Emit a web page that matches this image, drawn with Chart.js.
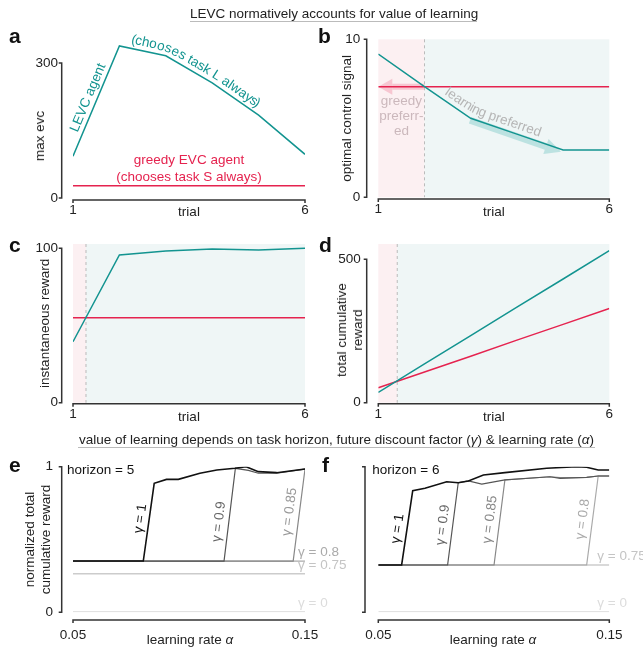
<!DOCTYPE html>
<html>
<head>
<meta charset="utf-8">
<script src="https://cdn.jsdelivr.net/npm/chart.js@4.4.0/dist/chart.umd.min.js"></script>
<style>
  body { margin: 0; background: #fff; }
  #fig { position: relative; width: 643px; height: 647px; overflow: hidden; font-family: "Liberation Sans", Arial, sans-serif; color: #222; }
  #fig canvas { position: absolute; left: 0; top: 0; }
  .hd { position: absolute; font-size: 13.5px; line-height: 15px; text-align: center; border-bottom: 1.2px solid #bbb; white-space: nowrap; }
  .lt { position: absolute; font-size: 21px; line-height: 21px; font-weight: bold; color: #111; }
  .lab { position: absolute; font-size: 13.5px; line-height: 16px; white-space: nowrap; text-align: center; transform: translate(-50%, -50%); }
  .rot { transform: translate(-50%, -50%) rotate(-90deg); }
</style>
</head>
<body>
<div id="fig">
  <canvas id="pa" width="643" height="647"></canvas>
  <canvas id="pb" width="643" height="647"></canvas>
  <canvas id="pc" width="643" height="647"></canvas>
  <canvas id="pd" width="643" height="647"></canvas>
  <canvas id="pe" width="643" height="647"></canvas>
  <canvas id="pf" width="643" height="647"></canvas>

  <div class="hd" style="left:190px;top:5.5px;width:287px">LEVC normatively accounts for value of learning</div>
  <div class="hd" style="left:78px;top:432px;width:517px">value of learning depends on task horizon, future discount factor (<i>γ</i>) &amp; learning rate (<i>α</i>)</div>

  <div class="lt" style="left:9px;top:25px">a</div>
  <div class="lt" style="left:318px;top:25px">b</div>
  <div class="lt" style="left:9px;top:234px">c</div>
  <div class="lt" style="left:319px;top:234px">d</div>
  <div class="lt" style="left:9px;top:454px">e</div>
  <div class="lt" style="left:322px;top:454px">f</div>

  <div class="lab rot" style="left:40px;top:136px">max evc</div>
  <div class="lab rot" style="left:350px;top:330px">total cumulative<br>reward</div>
  <div class="lab" style="left:190px;top:640px">learning rate <i>α</i></div>
  <div class="lab" style="left:493px;top:640px">learning rate <i>α</i></div>
</div>

<script>
// ---- data ----
const trials = [1, 2, 3, 4, 5, 6];
const maxEvcLevc = [93, 338, 316, 256, 184, 97];
const maxEvcGreedy = [27, 27, 27, 27, 27, 27];
const controlLevc = [9.07, 7.0, 5.0, 4.0, 3.0, 3.0];
const controlGreedy = [7, 7, 7, 7, 7, 7];
const rewardLevc = [39.5, 95.7, 98.3, 99.5, 98.9, 100];
const rewardGreedy = [55, 55, 55, 55, 55, 55];
const cumLevc = [36, 135, 234, 333, 431, 530];
const cumGreedy = [52, 107, 162, 218, 273, 328];
// trial where learning starts to pay off
const switchB = 2, switchC = 1.28, switchD = 1.41;

// horizon = 5
const h5g1A = [0.05, 0.0803, 0.085, 0.0903, 0.0954, 0.1047, 0.112, 0.1198, 0.1246, 0.1299, 0.1378, 0.15];
const h5g1 = [0.352, 0.352, 0.886, 0.913, 0.913, 0.955, 0.977, 0.989, 1.0, 0.966, 0.959, 0.984];
const h5g09A = [0.05, 0.1151, 0.12, 0.1256, 0.1299, 0.1378, 0.15];
const h5g09 = [0.352, 0.352, 0.989, 0.975, 0.955, 0.955, 0.984];
const h5g085A = [0.05, 0.1449, 0.15];
const h5g085 = [0.352, 0.352, 0.984];
const h5g08 = [0.352, 0.352];
const h5g075 = [0.265, 0.265];
const h5g0 = [0.003, 0.003];
// horizon = 6
const h6g1A = [0.05, 0.0601, 0.0649, 0.0702, 0.0796, 0.0846, 0.089, 0.0955, 0.1048, 0.1229, 0.1359, 0.1402, 0.1452, 0.15];
const h6g1 = [0.325, 0.325, 0.835, 0.852, 0.897, 0.89, 0.902, 0.943, 0.959, 0.989, 1.0, 0.996, 0.977, 0.977];
const h6g09A = [0.05, 0.08, 0.0846, 0.089, 0.0948, 0.1048, 0.1243, 0.1287, 0.1402, 0.1452, 0.15];
const h6g09 = [0.325, 0.325, 0.89, 0.902, 0.881, 0.909, 0.931, 0.92, 0.927, 0.936, 0.936];
const h6g085A = [0.05, 0.1001, 0.1048, 0.1243, 0.1287, 0.1402, 0.1452, 0.15];
const h6g085 = [0.325, 0.325, 0.909, 0.931, 0.925, 0.927, 0.936, 0.936];
const h6g08A = [0.05, 0.1402, 0.1452, 0.15];
const h6g08 = [0.325, 0.325, 0.936, 0.936];
const h6g075 = [0.325, 0.325];
const h6g0 = [0.003, 0.003];
const edgeAlpha = [0.05, 0.15];

// ticks
const trialTicks = [1, 6];
const evcTicks = [0, 300];
const controlTicks = [0, 10];
const rewardTicks = [0, 100];
const cumTicks = [0, 500];
const alphaTicks = [0.05, 0.15];
const normTicks = [0, 1];

// ---- styling ----
const TEAL = '#139490', RED = '#e5234f';
const PINK_BG = '#fcf0f2', TEAL_BG = '#eff6f6';
const FS = 13.5, HALF_LH = FS * 1.2 / 2;
const FONT = FS + 'px "Liberation Sans", Arial, sans-serif';
const W = 643, H = 647, YW = 60;

Chart.defaults.font.family = '"Liberation Sans", Arial, sans-serif';
Chart.defaults.font.size = FS;
Chart.defaults.color = '#222';

const pts = (xs, ys) => ys.map((v, i) => ({ x: xs[i], y: v }));
const line = (data, color, width) => ({ data, borderColor: color, borderWidth: width || 1.5, pointRadius: 0, fill: false, tension: 0 });

// place characters along a polyline, position and rotation smoothed around corners
function textOnPath(ctx, path, text, t, off, color) {
  ctx.font = FONT; ctx.fillStyle = color;
  ctx.textAlign = 'center'; ctx.textBaseline = 'alphabetic';
  const segs = []; let total = 0;
  for (let i = 0; i < path.length - 1; i++) {
    const dx = path[i + 1][0] - path[i][0], dy = path[i + 1][1] - path[i][1], len = Math.hypot(dx, dy);
    segs.push({ x0: path[i][0], y0: path[i][1], dx, dy, len, start: total });
    total += len;
  }
  const at = m => {
    m = Math.max(0, Math.min(total, m));
    const s = segs.find(g => m <= g.start + g.len) || segs[segs.length - 1];
    const u = (m - s.start) / s.len;
    return [s.x0 + s.dx * u, s.y0 + s.dy * u];
  };
  const K = 14;
  let d = t * total - ctx.measureText(text).width / 2;
  for (const ch of text) {
    const cw = ctx.measureText(ch).width, m = d + cw / 2;
    const pa = at(m - K), pb = at(m + K), p0 = at(m);
    const p = [(pa[0] + pb[0] + 2 * p0[0]) / 4, (pa[1] + pb[1] + 2 * p0[1]) / 4];
    const ang = Math.atan2(pb[1] - pa[1], pb[0] - pa[0]);
    ctx.save();
    ctx.translate(p[0] + Math.sin(ang) * off, p[1] - Math.cos(ang) * off);
    ctx.rotate(ang);
    ctx.fillText(ch, 0, 0);
    ctx.restore();
    d += cw;
  }
}

function arrow(ctx, x, y, ar) {
  let x0 = x.getPixelForValue(ar.from[0]), y0 = y.getPixelForValue(ar.from[1]);
  let x1 = x.getPixelForValue(ar.to[0]), y1 = y.getPixelForValue(ar.to[1]);
  const ang = Math.atan2(y1 - y0, x1 - x0), nx = Math.sin(ang), ny = -Math.cos(ang);
  x0 += nx * ar.off; y0 += ny * ar.off; x1 += nx * ar.off; y1 += ny * ar.off;
  const bx = x1 - Math.cos(ang) * ar.head, by = y1 - Math.sin(ang) * ar.head;
  ctx.fillStyle = ar.color; ctx.strokeStyle = ar.color; ctx.lineWidth = ar.w;
  ctx.beginPath(); ctx.moveTo(x0, y0); ctx.lineTo(bx, by); ctx.stroke();
  ctx.beginPath(); ctx.moveTo(x1, y1);
  ctx.lineTo(bx + nx * ar.half, by + ny * ar.half);
  ctx.lineTo(bx - nx * ar.half, by - ny * ar.half);
  ctx.closePath(); ctx.fill();
}

const decorById = {};
const decor = {
  id: 'decor',
  beforeDatasetsDraw(chart) {
    const d = decorById[chart.canvas.id]; if (!d) return;
    const { ctx, chartArea: a, scales: { x, y } } = chart;
    ctx.save();
    if (d.band != null) {
      const xb = x.getPixelForValue(d.band);
      ctx.fillStyle = PINK_BG; ctx.fillRect(a.left, a.top, xb - a.left, a.bottom - a.top);
      ctx.fillStyle = TEAL_BG; ctx.fillRect(xb, a.top, a.right - xb, a.bottom - a.top);
      ctx.strokeStyle = '#bbb'; ctx.lineWidth = 1; ctx.setLineDash([3, 3]);
      ctx.beginPath(); ctx.moveTo(xb, a.top); ctx.lineTo(xb, a.bottom); ctx.stroke();
      ctx.setLineDash([]);
    }
    (d.arrows || []).forEach(ar => arrow(ctx, x, y, ar));
    ctx.restore();
  },
  afterDatasetsDraw(chart) {
    const d = decorById[chart.canvas.id]; if (!d) return;
    const { ctx, chartArea: a, scales: { x, y } } = chart;
    ctx.save();
    // detached spines
    ctx.strokeStyle = '#333'; ctx.lineWidth = 1.5;
    const sx = a.left - d.gapY;
    const yA = y.getPixelForValue(d.spine[0]), yB = y.getPixelForValue(d.spine[1]);
    ctx.beginPath(); ctx.moveTo(sx - 3, yB); ctx.lineTo(sx, yB); ctx.lineTo(sx, yA); ctx.lineTo(sx - 3, yA); ctx.stroke();
    const sy = a.bottom + d.gapX, xA = x.getPixelForValue(x.min), xB = x.getPixelForValue(x.max);
    ctx.beginPath(); ctx.moveTo(xA, sy + 3); ctx.lineTo(xA, sy); ctx.lineTo(xB, sy); ctx.lineTo(xB, sy + 3); ctx.stroke();

    (d.pathTexts || []).forEach(p => {
      const meta = chart.getDatasetMeta(p.ds);
      const path = meta.data.slice(p.from, p.to + 1).map(e => [e.x, e.y]);
      textOnPath(ctx, path, p.text, p.t, p.off, p.color);
    });
    (d.texts || []).forEach(tx => {
      ctx.font = FONT; ctx.fillStyle = tx.color;
      ctx.textAlign = tx.align || 'center'; ctx.textBaseline = 'middle';
      ctx.fillText(tx.text, x.getPixelForValue(tx.x) + (tx.dx || 0), y.getPixelForValue(tx.y) + (tx.dy || 0));
    });
    ctx.restore();
  }
};

function panel(id, o) {
  const [l, t, r, b] = o.area;
  const xh = o.xh || 40;
  decorById[id] = o.decor;
  return new Chart(document.getElementById(id), {
    type: 'line',
    data: { datasets: o.datasets },
    options: {
      responsive: false, animation: false, devicePixelRatio: 1, events: [],
      layout: { padding: { left: l - YW, top: t, right: W - r, bottom: H - b - xh } },
      plugins: { legend: { display: false }, tooltip: { enabled: false } },
      scales: {
        x: {
          type: 'linear', min: o.x[0], max: o.x[1],
          afterFit: s => { s.height = xh; },
          afterBuildTicks: s => { s.ticks = o.xTicks.map(v => ({ value: v })); },
          grid: { display: false, drawTicks: false }, border: { display: false },
          ticks: { padding: o.xPad, maxRotation: 0, autoSkip: false, callback: v => String(v) },
          title: o.xTitle
            ? { display: true, text: o.xTitle, padding: { top: 0, bottom: xh - 14.5 - HALF_LH } }
            : { display: false }
        },
        y: {
          type: 'linear', min: o.y[0], max: o.y[1],
          afterFit: s => { s.width = YW; },
          afterBuildTicks: s => { s.ticks = o.yTicks.map(v => ({ value: v })); },
          grid: { display: false, drawTicks: false }, border: { display: false },
          ticks: { display: o.yPad != null, padding: o.yPad || 0, autoSkip: false, callback: v => String(v) },
          title: o.yTitle
            ? { display: true, text: o.yTitle, padding: { top: o.yTitleX - (l - YW) - HALF_LH, bottom: 0 } }
            : { display: false }
        }
      }
    },
    plugins: [decor]
  });
}

// a
panel('pa', {
  area: [73, 40.5, 305, 198], x: [1, 6], y: [0, 350],
  xTicks: trialTicks, yTicks: evcTicks, xPad: 4, yPad: 15, xTitle: 'trial',
  datasets: [line(pts(trials, maxEvcLevc), TEAL), line(pts(trials, maxEvcGreedy), RED)],
  decor: {
    spine: [0, 300], gapY: 11.3, gapX: 2,
    pathTexts: [
      { ds: 0, from: 0, to: 1, text: 'LEVC agent', t: 0.5, off: 5, color: TEAL },
      { ds: 0, from: 1, to: 4, text: '(chooses task L always)', t: 0.52, off: 5, color: TEAL }
    ],
    texts: [
      { x: 3.5, y: 84, text: 'greedy EVC agent', color: RED },
      { x: 3.5, y: 47, text: '(chooses task S always)', color: RED }
    ]
  }
});

// b
panel('pb', {
  area: [378.3, 39.3, 609.3, 197.3], x: [1, 6], y: [0, 10],
  xTicks: trialTicks, yTicks: controlTicks, xPad: 4, yPad: 18, xTitle: 'trial',
  yTitle: 'optimal control signal', yTitleX: 347,
  datasets: [line(pts(trials, controlLevc), TEAL), line(pts(trials, controlGreedy), RED)],
  decor: {
    spine: [0, 10], gapY: 11.6, gapX: 1.7, band: switchB,
    arrows: [
      { from: [2, 7], to: [1, 7], off: 0, w: 6, head: 14, half: 8, color: 'rgba(245,175,190,0.65)' },
      { from: [3, 5], to: [4.97, 3], off: -2, w: 7, head: 16, half: 8, color: 'rgba(95,190,185,0.35)' }
    ],
    pathTexts: [{ ds: 0, from: 1, to: 4, text: 'learning preferred', t: 0.48, off: 5, color: '#b5b5b5' }],
    texts: [
      { x: 1.5, y: 6.05, text: 'greedy', color: '#cbb8bc' },
      { x: 1.5, y: 5.1, text: 'preferr-', color: '#cbb8bc' },
      { x: 1.5, y: 4.15, text: 'ed', color: '#cbb8bc' }
    ]
  }
});

// c
panel('pc', {
  area: [73, 244, 305, 402.7], x: [1, 6], y: [0, 102.8],
  xTicks: trialTicks, yTicks: rewardTicks, xPad: 3.5, yPad: 15, xTitle: 'trial',
  yTitle: 'instantaneous reward', yTitleX: 45,
  datasets: [line(pts(trials, rewardLevc), TEAL), line(pts(trials, rewardGreedy), RED)],
  decor: { spine: [0, 100], gapY: 11.3, gapX: 1, band: switchC }
});

// d
panel('pd', {
  area: [378.3, 244, 609.3, 402.7], x: [1, 6], y: [0, 553],
  xTicks: trialTicks, yTicks: cumTicks, xPad: 3.5, yPad: 17.5, xTitle: 'trial',
  datasets: [line(pts(trials, cumLevc), TEAL), line(pts(trials, cumGreedy), RED)],
  decor: { spine: [0, 500], gapY: 11.6, gapX: 1, band: switchD }
});

// e
panel('pe', {
  area: [73, 466.7, 305, 612.3], x: [0.05, 0.15], y: [0, 1], xh: 30,
  xTicks: alphaTicks, yTicks: normTicks, xPad: 15, yPad: 20,
  yTitle: ['normalized total', 'cumulative reward'], yTitleX: 30,
  datasets: [
    line(pts(h5g1A, h5g1), '#111', 1.6),
    line(pts(h5g09A, h5g09), '#555', 1.2),
    line(pts(h5g085A, h5g085), '#888', 1.2),
    line(pts(edgeAlpha, h5g08), '#aaa', 1.2),
    line(pts(edgeAlpha, h5g075), '#ccc', 1.5),
    line(pts(edgeAlpha, h5g0), '#e2e2e2', 1.5)
  ],
  decor: {
    spine: [0, 1], gapY: 11.3, gapX: 7.7,
    pathTexts: [
      { ds: 0, from: 1, to: 2, text: 'γ = 1', t: 0.53, off: 5, color: '#111' },
      { ds: 1, from: 1, to: 2, text: 'γ = 0.9', t: 0.41, off: 6, color: '#666' },
      { ds: 2, from: 1, to: 2, text: 'γ = 0.85', t: 0.52, off: 6, color: '#999' }
    ],
    texts: [
      { x: 0.05, y: 1, dx: -6, dy: 3.5, align: 'left', text: 'horizon = 5', color: '#111' },
      { x: 0.147, y: 0.352, dy: -8.5, align: 'left', text: 'γ = 0.8', color: '#aaa' },
      { x: 0.147, y: 0.265, dy: -8.5, align: 'left', text: 'γ = 0.75', color: '#c4c4c4' },
      { x: 0.147, y: 0.003, dy: -9, align: 'left', text: 'γ = 0', color: '#dcdcdc' }
    ]
  }
});

// f
panel('pf', {
  area: [378.3, 466.7, 609.3, 612.3], x: [0.05, 0.15], y: [0, 1], xh: 30,
  xTicks: alphaTicks, yTicks: normTicks, xPad: 15,
  datasets: [
    line(pts(h6g1A, h6g1), '#111', 1.6),
    line(pts(h6g09A, h6g09), '#555', 1.2),
    line(pts(h6g085A, h6g085), '#888', 1.2),
    line(pts(h6g08A, h6g08), '#aaa', 1.2),
    line(pts(edgeAlpha, h6g075), '#ccc', 1.5),
    line(pts(edgeAlpha, h6g0), '#e2e2e2', 1.5)
  ],
  decor: {
    spine: [0, 1], gapY: 13.3, gapX: 7.7,
    pathTexts: [
      { ds: 0, from: 1, to: 2, text: 'γ = 1', t: 0.47, off: 5.5, color: '#111' },
      { ds: 1, from: 1, to: 2, text: 'γ = 0.9', t: 0.47, off: 6, color: '#666' },
      { ds: 2, from: 1, to: 2, text: 'γ = 0.85', t: 0.52, off: 6, color: '#888' },
      { ds: 3, from: 1, to: 2, text: 'γ = 0.8', t: 0.5, off: 6, color: '#aaa' }
    ],
    texts: [
      { x: 0.05, y: 1, dx: -6, dy: 3.5, align: 'left', text: 'horizon = 6', color: '#111' },
      { x: 0.1448, y: 0.325, dy: -8.5, align: 'left', text: 'γ = 0.75', color: '#c4c4c4' },
      { x: 0.1448, y: 0.003, dy: -9, align: 'left', text: 'γ = 0', color: '#dcdcdc' }
    ]
  }
});
</script>
</body>
</html>
